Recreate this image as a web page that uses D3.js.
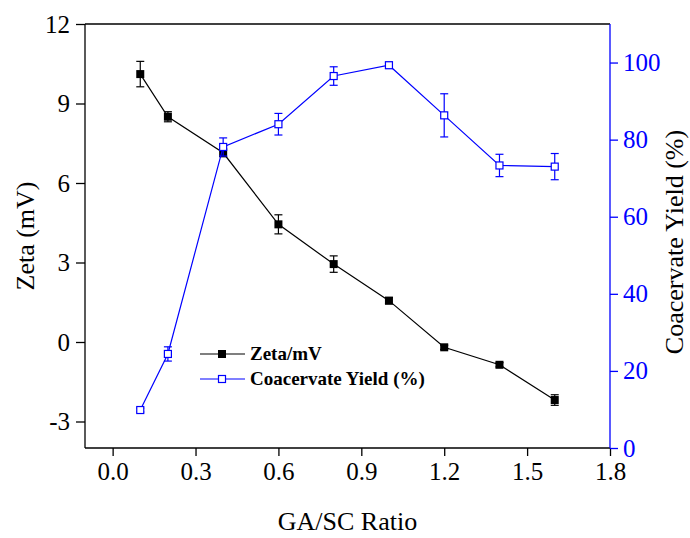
<!DOCTYPE html>
<html><head><meta charset="utf-8">
<script src="https://cdn.jsdelivr.net/npm/d3@7"></script>
<style>body{margin:0;background:#fff}svg{display:block}text{font-family:"Liberation Serif","Times New Roman",serif}</style>
</head><body><svg id="c" width="690" height="538"></svg>
<script>
const ratio = [0.1, 0.2, 0.4, 0.6, 0.8, 1.0, 1.2, 1.4, 1.6];
const zeta = [10.11, 8.50, 7.14, 4.44, 2.94, 1.56, -0.20, -0.86, -2.19];
const zetaErr = [0.48, 0.19, 0.15, 0.36, 0.31, 0.12, 0.08, 0.08, 0.20];
const yieldPct = [9.85, 24.4, 78.1, 84.0, 96.5, 99.3, 86.3, 73.3, 73.0];
const yieldErr = [0.5, 1.85, 2.35, 2.8, 2.4, 0.8, 5.6, 2.9, 3.4];
const xTicks = [0.0, 0.3, 0.6, 0.9, 1.2, 1.5, 1.8];
const yTicks = [-3, 0, 3, 6, 9, 12];
const y2Ticks = [0, 20, 40, 60, 80, 100];

const svg = d3.select("#c");
const L = 85, R = 610, T = 24, B = 448;
const blue = "#0000ff";
const x = d3.scaleLinear().domain([-0.1, 1.8]).range([L, R]);
const y = d3.scaleLinear().domain([-4, 12]).range([B, T]);
const y2 = d3.scaleLinear().domain([0, 110]).range([B, T]);

svg.append("line").attr("x1", L).attr("x2", R).attr("y1", T).attr("y2", T).attr("stroke", "#000").attr("stroke-width", 1.3);

const gx = svg.append("g").attr("transform", `translate(0,${B})`)
  .call(d3.axisBottom(x).tickValues(xTicks).tickFormat(d3.format(".1f")).tickSizeOuter(0).tickSize(8).tickPadding(6));
const gy = svg.append("g").attr("transform", `translate(${L},0)`)
  .call(d3.axisLeft(y).tickValues(yTicks).tickFormat(d => d).tickSizeOuter(0).tickSize(9).tickPadding(6));
const gy2 = svg.append("g").attr("transform", `translate(${R},0)`)
  .call(d3.axisRight(y2).tickValues(y2Ticks).tickSizeOuter(0).tickSize(8).tickPadding(5));
[gx, gy].forEach(g => {
  g.selectAll("path,line").attr("stroke", "#000").attr("stroke-width", 1.3);
  g.selectAll("text").attr("fill", "#000").style("font-size", "25px");
});
gy2.selectAll("path,line").attr("stroke", blue).attr("stroke-width", 1.3);
gy2.selectAll("text").attr("fill", blue).style("font-size", "25px");
gx.select(".domain").attr("d", `M${L},0H${R}`);
gy.select(".domain").attr("d", `M0,${T}V${B}`);
gy2.select(".domain").attr("d", `M0,${T}V${B}`);

svg.append("text").attr("x", (L + R) / 2).attr("y", 530).attr("text-anchor", "middle").style("font-size", "26px").text("GA/SC Ratio");
svg.append("text").attr("transform", `translate(34,${(T + B) / 2}) rotate(-90)`).attr("text-anchor", "middle").style("font-size", "26px").text("Zeta (mV)");
svg.append("text").attr("transform", `translate(683,242) rotate(-90)`).attr("text-anchor", "middle").style("font-size", "26px").text("Coacervate Yield (%)");

function series(vals, errs, ys, color, filled) {
  const g = svg.append("g");
  const pts = ratio.map((r, i) => ({ r, v: vals[i], e: errs[i] }));
  g.append("path").datum(pts).attr("fill", "none").attr("stroke", color).attr("stroke-width", 1.2)
    .attr("d", d3.line().x(d => x(d.r)).y(d => ys(d.v)));
  const eb = g.selectAll(".eb").data(pts).enter().append("g");
  eb.append("line").attr("x1", d => x(d.r)).attr("x2", d => x(d.r)).attr("y1", d => ys(d.v - d.e)).attr("y2", d => ys(d.v + d.e)).attr("stroke", color).attr("stroke-width", 1.2);
  eb.append("line").attr("x1", d => x(d.r) - 4).attr("x2", d => x(d.r) + 4).attr("y1", d => ys(d.v - d.e)).attr("y2", d => ys(d.v - d.e)).attr("stroke", color).attr("stroke-width", 1.2);
  eb.append("line").attr("x1", d => x(d.r) - 4).attr("x2", d => x(d.r) + 4).attr("y1", d => ys(d.v + d.e)).attr("y2", d => ys(d.v + d.e)).attr("stroke", color).attr("stroke-width", 1.2);
  g.selectAll(".m").data(pts).enter().append("rect")
    .attr("x", d => x(d.r) - (filled ? 4 : 3.5)).attr("y", d => ys(d.v) - (filled ? 4 : 3.5))
    .attr("width", filled ? 8 : 7).attr("height", filled ? 8 : 7)
    .attr("fill", filled ? color : "#fff").attr("stroke", color).attr("stroke-width", filled ? 0 : 1.2);
}
series(zeta, zetaErr, y, "#000", true);
series(yieldPct, yieldErr, y2, blue, false);

const leg = [{ t: "Zeta/mV", c: "#000", f: true, yy: 354 }, { t: "Coacervate Yield (%)", c: blue, f: false, yy: 379 }];
leg.forEach(l => {
  svg.append("line").attr("x1", 200).attr("x2", 245).attr("y1", l.yy).attr("y2", l.yy).attr("stroke", l.c).attr("stroke-width", 1.2);
  svg.append("rect").attr("x", l.f ? 218 : 218.5).attr("y", l.yy - (l.f ? 4 : 3.5)).attr("width", l.f ? 8 : 7).attr("height", l.f ? 8 : 7)
    .attr("fill", l.f ? l.c : "#fff").attr("stroke", l.c).attr("stroke-width", l.f ? 0 : 1.2);
  svg.append("text").attr("x", 250).attr("y", l.yy + 6).style("font-size", "19px").style("font-weight", "bold").text(l.t);
});
</script></body></html>
